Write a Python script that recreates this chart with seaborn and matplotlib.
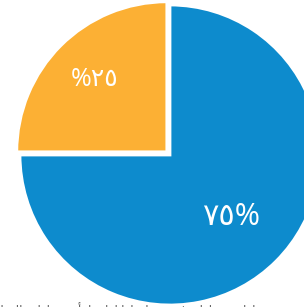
import matplotlib
matplotlib.use("Agg")
import matplotlib.pyplot as plt
import seaborn as sns
import numpy as np

sns.set_theme(style="white")
plt.rcParams['font.family'] = ['Open Sans', 'DejaVu Sans']

# Data
categories = ["blue", "orange"]
values = [75, 25]
labels = ["٧٥%", "%٢٥"]
colors = ["#0D8BCD", "#FCB034"]
caption = "نسبة الطلاب الذين أكملوا الدراسة في الوقت المحدد مقارنة بغيرهم"

fig = plt.figure(figsize=(3.04, 3.07), dpi=100)
ax = fig.add_axes([0, 0, 1, 1])

wedges, _ = ax.pie(values, colors=colors, startangle=180, counterclock=True,
                   explode=[0, 0.03], radius=1.0,
                   wedgeprops=dict(edgecolor="white", linewidth=2))

dists = [0.58, 0.68]
sizes = [22, 18]
for w, lab, d, s in zip(wedges, labels, dists, sizes):
    theta = np.deg2rad((w.theta1 + w.theta2) / 2)
    cx, cy = w.center
    ax.text(cx + d * np.cos(theta), cy + d * np.sin(theta), lab,
            ha="center", va="center", color="white", fontsize=s)

ax.set_xlim(-170 / 150, 134 / 150)
ax.set_ylim(-152 / 150, 155 / 150)
ax.set_aspect("equal")
ax.axis("off")

fig.text(0.53, -0.040, caption, ha="center", va="bottom", fontsize=9, color="#666666")

fig.savefig("out.png", dpi=100)
